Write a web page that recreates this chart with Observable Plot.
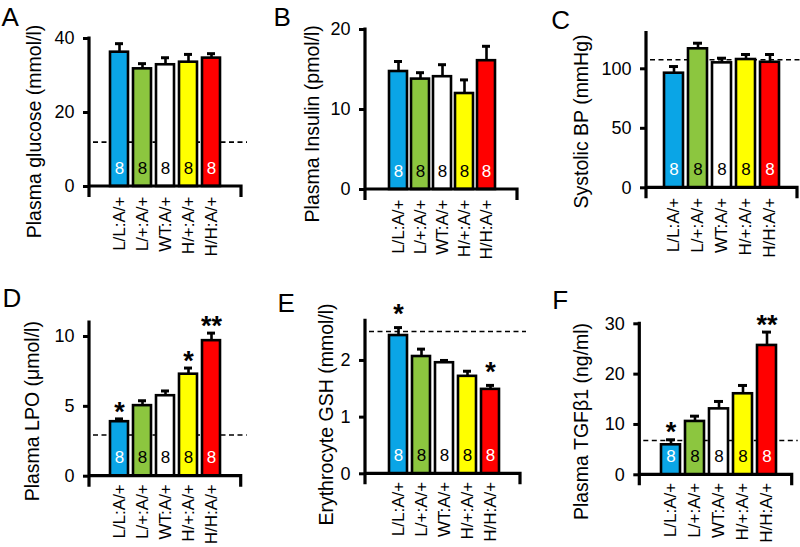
<!DOCTYPE html>
<html><head><meta charset="utf-8">
<script src="https://cdn.jsdelivr.net/npm/d3@7"></script>
<script src="https://cdn.jsdelivr.net/npm/@observablehq/plot@0.6"></script>
<style>
body{margin:0;background:#fff}
#fig{position:relative;width:800px;height:547px;overflow:hidden;background:#fff;font-family:"Liberation Sans",Arial,Helvetica,sans-serif}
#fig svg{position:absolute;overflow:visible}
</style></head><body><div id="fig"></div>
<script>
// ---- data ----
const groups = ["L/L:A/+", "L/+:A/+", "WT:A/+", "H/+:A/+", "H/H:A/+"];
const barColors = ["#0aa5e6", "#8cc63f", "#ffffff", "#ffff00", "#ff0000"];
const nColors = ["#ffffff", "#000000", "#000000", "#000000", "#ffffff"];
const nValues = [8, 8, 8, 8, 8];

const glucoseMean = [36.3, 31.8, 32.9, 33.6, 34.7];
const glucoseSem  = [2.3, 1.4, 1.9, 2.1, 1.2];
const glucoseRef  = 12.0;

const insulinMean = [14.75, 13.8, 14.1, 12.0, 16.1];
const insulinSem  = [1.25, 0.8, 1.5, 1.7, 1.8];

const bpMean = [96.3, 116.8, 105.0, 107.8, 105.5];
const bpSem  = [5.6, 4.7, 3.9, 4.2, 6.5];
const bpRef  = 107.6;

const lpoMean = [3.9, 5.05, 5.76, 7.3, 9.7];
const lpoSem  = [0.2, 0.35, 0.34, 0.44, 0.54];
const lpoRef  = 2.95;
const lpoStars = ["*", "", "", "*", "**"];

const gshMean = [2.44, 2.07, 1.96, 1.72, 1.49];
const gshSem  = [0.14, 0.13, 0.04, 0.09, 0.07];
const gshRef  = 2.51;
const gshStars = ["*", "", "", "", "*"];

const tgfMean = [5.96, 10.6, 13.1, 16.1, 25.7];
const tgfSem  = [1.0, 1.05, 1.47, 1.65, 2.65];
const tgfRef  = 6.8;
const tgfStars = ["*", "", "", "", "**"];

const panels = [
  {letter: "A", label: "Plasma glucose (mmol/l)", mean: glucoseMean, sem: glucoseSem, ref: glucoseRef, stars: null,
   yMax: 40, ticks: [0, 20, 40],
   box: [0, 0, 265, 273], m: [38, 24, 87, 89], centers: [118.5, 211.5], lab: [27, 131], let: [1, 7], starDy: -7, xPad: 10},
  {letter: "B", label: "Plasma Insulin (pmol/l)", mean: insulinMean, sem: insulinSem, ref: null, stars: null,
   yMax: 20, ticks: [0, 10, 20],
   box: [265, 0, 265, 273], m: [29, 13, 84, 100], centers: [131.5, 223], lab: [39.3, 123.3], let: [8, 7], starDy: -7, xPad: 10},
  {letter: "C", label: "Systolic BP (mmHg)", mean: bpMean, sem: bpSem, ref: bpRef, stars: null,
   yMax: 130, ticks: [0, 50, 100],
   box: [530, 0, 270, 273], m: [32.6, 3, 85.7, 116], centers: [143.3, 239.5], lab: [43.3, 121], let: [20.7, 10], starDy: -7, xPad: 10},
  {letter: "D", label: "Plasma LPO (\u03bcmol/l)", mean: lpoMean, sem: lpoSem, ref: lpoRef, stars: lpoStars,
   yMax: 11, ticks: [0, 5, 10],
   box: [0, 270, 265, 277], m: [52, 24.3, 71.3, 89], centers: [117.7, 212.5], lab: [25, 140.7], let: [2, 18.3], starDy: -7, xPad: 8},
  {letter: "E", label: "Erythrocyte GSH (mmol/l)", mean: gshMean, sem: gshSem, ref: gshRef, stars: gshStars,
   yMax: 2.7, ticks: [0, 1, 2],
   box: [265, 270, 265, 277], m: [50.3, 10, 73.7, 100], centers: [131.2, 226.2], lab: [53.3, 144], let: [12, 23.3], starDy: -13, xPad: 8},
  {letter: "F", label: "Plasma TGF\u03b21 (ng/ml)", mean: tgfMean, sem: tgfSem, ref: tgfRef, stars: tgfStars,
   yMax: 30, ticks: [0, 10, 20, 30],
   box: [530, 270, 270, 277], m: [53.3, 8.3, 72.7, 109.3], centers: [139.5, 236.7], lab: [43.3, 151], let: [21.7, 20], starDy: -7, xPad: 8}
];

// axis lines drawn from the plot's own frame dimensions
const axisLines = (index, scales, values, dims) => {
  const {width, height, marginLeft, marginRight, marginTop, marginBottom} = dims;
  const y0 = height - marginBottom;
  const g = d3.create("svg:g");
  g.append("path")
    .attr("d", `M${marginLeft},${marginTop - 1.5}V${y0 + 11}M${marginLeft},${y0}H${width - marginRight}V${y0 + 11}`)
    .attr("fill", "none").attr("stroke", "#000").attr("stroke-width", 3.2);
  return g.node();
};

const fig = document.getElementById("fig");
const FONT = '"Liberation Sans", Arial, Helvetica, sans-serif';

for (const p of panels) {
  const [left, top, width, height] = p.box;
  const [mt, mr, mb, ml] = p.m;
  const data = groups.map((g, i) => ({
    group: g, mean: p.mean[i], top: p.mean[i] + p.sem[i],
    color: barColors[i], ncolor: nColors[i], n: nValues[i],
    star: p.stars ? p.stars[i] : ""
  }));
  const step = (p.centers[1] - p.centers[0]) / (groups.length - 1);
  const marks = [
    p.ref != null ? Plot.ruleY([p.ref], {stroke: "#000", strokeWidth: 1.6, strokeDasharray: "5,3.5", insetLeft: 4, insetRight: -6}) : null,
    Plot.ruleX(data, {x: "group", y1: "mean", y2: "top", stroke: "#000", strokeWidth: 2.6}),
    Plot.tickY(data, {x: "group", y: "top", stroke: "#000", strokeWidth: 3, insetLeft: 5, insetRight: 5}),
    Plot.barY(data, {x: "group", y: "mean", fill: "color", stroke: "#000", strokeWidth: 2.6}),
    Plot.text(data, {x: "group", frameAnchor: "bottom", text: d => String(d.n), fill: "ncolor", fontSize: 17, dy: -13}),
    Plot.text(data.filter(d => d.star), {x: "group", y: "top", text: "star", fontSize: 27, fontWeight: "bold", dy: p.starDy}),
    axisLines,
    Plot.axisY({ticks: p.ticks, tickFormat: d3.format("~g"), tickSize: 6, tickPadding: 9, fontSize: 18, strokeWidth: 3, label: null}),
    Plot.axisX({tickRotate: -90, tickSize: 0, tickPadding: p.xPad, fontSize: 17, label: null}),
    Plot.text([p.label], {frameAnchor: "top-left", dx: p.lab[0] - ml, dy: p.lab[1] - mt, rotate: -90, fontSize: 19.5, textAnchor: "middle"}),
    Plot.text([p.letter], {frameAnchor: "top-left", dx: p.let[0] - ml, dy: p.let[1] - mt, fontSize: 26, textAnchor: "start", lineAnchor: "top"})
  ].filter(Boolean);

  const chart = Plot.plot({
    width, height,
    marginTop: mt, marginRight: mr, marginBottom: mb, marginLeft: ml,
    style: {fontFamily: FONT, fontSize: "17px", color: "#000", background: "transparent", overflow: "visible"},
    x: {type: "band", domain: groups, range: [p.centers[0] - step / 2, p.centers[1] + step / 2], paddingInner: 0.2, paddingOuter: 0.1},
    y: {domain: [0, p.yMax]},
    color: {type: "identity"},
    marks
  });
  chart.style.left = left + "px";
  chart.style.top = top + "px";
  fig.appendChild(chart);
}
</script>
</body></html>
